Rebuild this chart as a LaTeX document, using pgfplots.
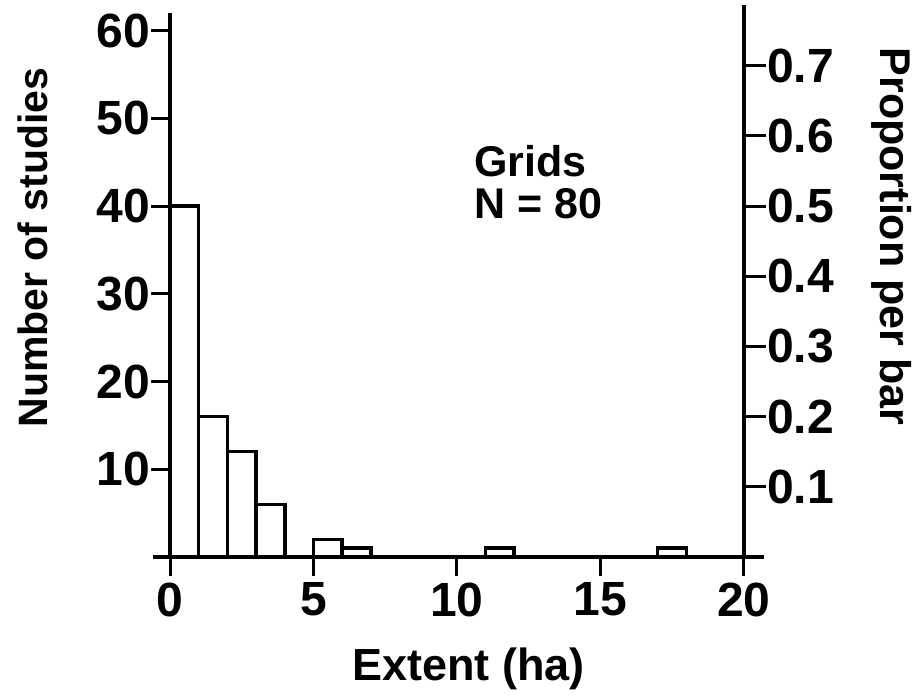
\documentclass[border=0pt]{standalone}
\usepackage{pgfplots}
\pgfplotsset{compat=1.18}
\usepackage{fontspec}
\setmainfont{Liberation Sans}
\begin{document}
\begin{tikzpicture}
\path[use as bounding box] (-152.8pt,-141pt) rectangle (770.2pt,557pt);
\begin{axis}[
  at={(0pt,0pt)}, anchor=south west,
  scale only axis, width=611pt, height=544pt,
  xmin=-0.6, xmax=20.7, ymin=0, ymax=62,
  axis lines=middle,
  axis line style={-, line width=3.5pt},
  hide obscured x ticks=false, hide obscured y ticks=false,
  xtick={0,5,10,15,20}, ytick={10,20,30,40,50,60},
  tick align=outside, major tick length=19pt,
  tick style={line width=3pt, black},
  /pgf/number format/assume math mode=true,
  ticklabel style={font=\fontsize{48}{52}\selectfont\bfseries},
  xticklabel style={yshift=-3pt},
  yticklabel style={inner sep=1pt},
  clip=false,
]
\addplot[ybar, bar width=1, bar shift=0, fill=white, draw=black, line width=3.5pt]
  coordinates {(0.5,40) (1.5,16) (2.5,12) (3.5,6) (5.5,2) (6.5,1) (11.5,1) (17.5,1)};
\node[font=\fontsize{45}{50}\selectfont\bfseries, anchor=center]
  at (axis description cs:0.517,-0.205) {Extent (ha)};
\node[font=\fontsize{41}{50}\selectfont\bfseries, anchor=center, rotate=90]
  at (axis description cs:-0.196,0.569) {Number of studies};
\node[font=\fontsize{43}{42}\selectfont\bfseries, anchor=north west, align=left, inner sep=0pt]
  at (axis description cs:0.526,0.757) {Grids\\N = 80};
\end{axis}
\begin{axis}[
  at={(0pt,0pt)}, anchor=south west,
  scale only axis, width=591.2pt, height=552pt,
  xmin=-20.6, xmax=0, ymin=0, ymax=0.7864,
  axis x line=none, axis y line=right,
  axis line style={-, line width=3.5pt},
  ytick={0.1,0.2,0.3,0.4,0.5,0.6,0.7},
  yticklabel={\pgfmathprintnumber[fixed,fixed zerofill,precision=1]{\tick}},
  tick align=outside, major tick length=22pt,
  tick style={line width=3pt, black},
  /pgf/number format/assume math mode=true,
  ticklabel style={font=\fontsize{48}{52}\selectfont\bfseries, inner sep=1pt},
  ylabel={Proportion per bar},
  ylabel style={font=\fontsize{43}{50}\selectfont\bfseries, rotate=180, at={(axis description cs:1.250,0.5806)}, anchor=center},
  clip=false,
]
\end{axis}
\end{tikzpicture}
\end{document}
